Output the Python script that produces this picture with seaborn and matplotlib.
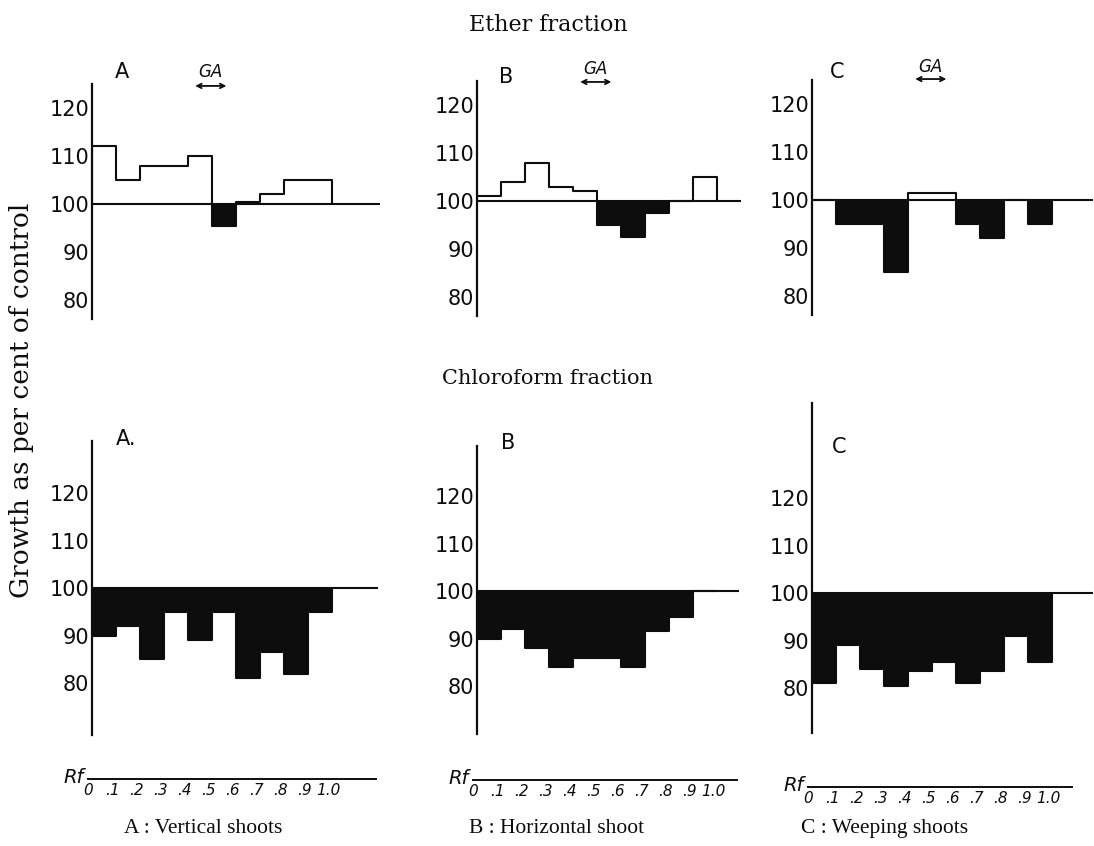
import numpy as np
import seaborn as sns
import matplotlib.pyplot as plt

# Rf zones (bin edges) and the labels written under the Rf axis
rf_edges = [0.0, 0.1, 0.2, 0.3, 0.4, 0.5, 0.6, 0.7, 0.8, 0.9, 1.0]
rf_labels = ["0", ".1", ".2", ".3", ".4", ".5", ".6", ".7", ".8", ".9", "1.0"]
y_ticks = [80, 90, 100, 110, 120]

# growth (% of control) for each Rf zone
ether_A = [112, 105, 108, 108, 110, 95.5, 100.5, 102, 105, 105]
ether_B = [101, 104, 108, 103, 102, 95, 92.5, 97.5, 100, 105]
ether_C = [100, 95, 95, 85, 101.5, 101.5, 95, 92, 100, 95]
chloro_A = [90, 92, 85, 95, 89, 95, 81, 86.5, 82, 95]
chloro_B = [90, 92, 88, 84, 86, 86, 84, 91.5, 94.5, 100]
chloro_C = [81, 89, 84, 80.5, 83.5, 85.5, 81, 83.5, 91, 85.5]

letters = ["A", "B", "C"]
chloro_letters = ["A.", "B", "C"]
shoot_titles = ["A : Vertical shoots", "B : Horizontal shoot", "C : Weeping shoots"]

sns.set_theme(style="white")
plt.rcParams["font.family"] = ["DejaVu Sans"]
plt.rcParams["text.color"] = "black"

W, H = 1094, 846
fig = plt.figure(figsize=(W / 100, H / 100), dpi=100)
PX_X = 240  # pixels per 1.0 Rf

ink = "#0d0d0d"
tick_font = dict(family=["DejaVu Sans"], size=15, weight="normal", color=ink)
serif = ["DejaVu Serif"]


def add_px_axes(x0, y_top, w, h):
    return fig.add_axes([x0 / W, 1 - (y_top + h) / H, w / W, h / H])


def ftext(x, y, s, **kw):
    fig.text(x / W, 1 - y / H, s, color=ink, **kw)


def draw_panel(x0, y100, scale, ylim, xmax, vals):
    top = y100 - (ylim[1] - 100) * scale
    h = (ylim[1] - ylim[0]) * scale
    ax = add_px_axes(x0, top, xmax * PX_X, h)
    vals = np.asarray(vals, dtype=float)
    edges = np.asarray(rf_edges)
    xs = np.concatenate([[0.0], edges[:-1], [1.0, 1.0]])
    ys = np.concatenate([[100.0], vals, [vals[-1], 100.0]])
    low = np.append(np.minimum(vals, 100), min(vals[-1], 100))
    ax.fill_between(edges, 100, low, step="post", color=ink, lw=0)
    sns.lineplot(x=xs, y=ys, ax=ax, drawstyle="steps-post", sort=False,
                 estimator=None, color=ink, lw=1.5)
    ax.axhline(100, color=ink, lw=1.5)
    ax.set_xlim(0, xmax)
    ax.set_ylim(*ylim)
    for s in ["top", "right", "bottom"]:
        ax.spines[s].set_visible(False)
    ax.spines["left"].set_linewidth(1.6)
    ax.spines["left"].set_color(ink)
    ax.set_xticks([])
    ax.set_yticks(y_ticks)
    ax.set_yticklabels([str(t) for t in y_ticks], fontdict=tick_font)
    ax.tick_params(axis="y", direction="in", length=3, width=1, pad=2, colors=ink)
    ax.set_facecolor("none")
    return ax


# column layout: spine x, 100-line pixel rows, baseline end
cols = [
    dict(x=92, e100=204, c100=588, ex=1.2, cylim=(69, 131), cx=1.19,
         rf=(88, 779, 1.2), el=(0.125, 127.5), cl=(0.14, 131.4), ga=(124.6, 127.6)),
    dict(x=477, e100=201, c100=591, ex=1.1, cylim=(70, 130.5), cx=1.09,
         rf=(473, 780, 1.1), el=(0.12, 125.8), cl=(0.13, 131.2), ga=(124.8, 127.5)),
    dict(x=812, e100=200, c100=593, ex=1.17, cylim=(70.5, 140), cx=1.17,
         rf=(808, 787, 1.1), el=(0.105, 126.7), cl=(0.115, 130.7), ga=(125.2, 127.8)),
]
ether = [ether_A, ether_B, ether_C]
chloro = [chloro_A, chloro_B, chloro_C]

for i, c in enumerate(cols):
    ax_e = draw_panel(c["x"], c["e100"], 4.8, (76, 125), c["ex"], ether[i])
    ax_e.text(c["el"][0], c["el"][1], letters[i], ha="center", va="center",
              fontsize=15, color=ink, clip_on=False)
    ax_e.annotate("", xy=(0.43, c["ga"][0]), xytext=(0.56, c["ga"][0]),
                  arrowprops=dict(arrowstyle="<->", lw=1.3, color=ink,
                                  shrinkA=0, shrinkB=0, mutation_scale=8),
                  annotation_clip=False)
    ax_e.text(0.495, c["ga"][1], "GA", ha="center", va="center", fontsize=12,
              style="italic", color=ink, clip_on=False)

    ax_c = draw_panel(c["x"], c["c100"], 4.75, c["cylim"], c["cx"], chloro[i])
    ax_c.text(c["cl"][0], c["cl"][1], chloro_letters[i], ha="center", va="center",
              fontsize=15, color=ink, clip_on=False)

    # Rf scale under each column
    rx, ry, rmax = c["rf"]
    ax_r = add_px_axes(rx, ry - 10, rmax * PX_X, 10)
    ax_r.set_xlim(0, rmax)
    ax_r.set_ylim(0, 1)
    for s in ["top", "right", "left"]:
        ax_r.spines[s].set_visible(False)
    ax_r.spines["bottom"].set_linewidth(1.4)
    ax_r.spines["bottom"].set_color(ink)
    ax_r.set_yticks([])
    ax_r.set_xticks(rf_edges)
    ax_r.set_xticklabels(rf_labels, fontsize=11, style="italic", color=ink)
    ax_r.tick_params(axis="x", direction="in", length=4, width=1, pad=3, colors=ink)
    ax_r.set_facecolor("none")
    ftext(rx - 4, ry - 2, "Rf", ha="right", va="center", fontsize=14, style="italic")

    ftext([203, 557, 885][i], 828, shoot_titles[i], ha="center", va="center",
          fontsize=15.5, family=["Liberation Serif"])

ftext(548, 25, "Ether fraction", ha="center", va="center", fontsize=16, family=serif)
ftext(547, 378, "Chloroform fraction", ha="center", va="center", fontsize=15, family=serif)
ftext(22, 400, "Growth as per cent of control", ha="center", va="center",
      rotation=90, fontsize=19, family=serif)

fig.savefig("out.png", dpi=100, facecolor="white")
